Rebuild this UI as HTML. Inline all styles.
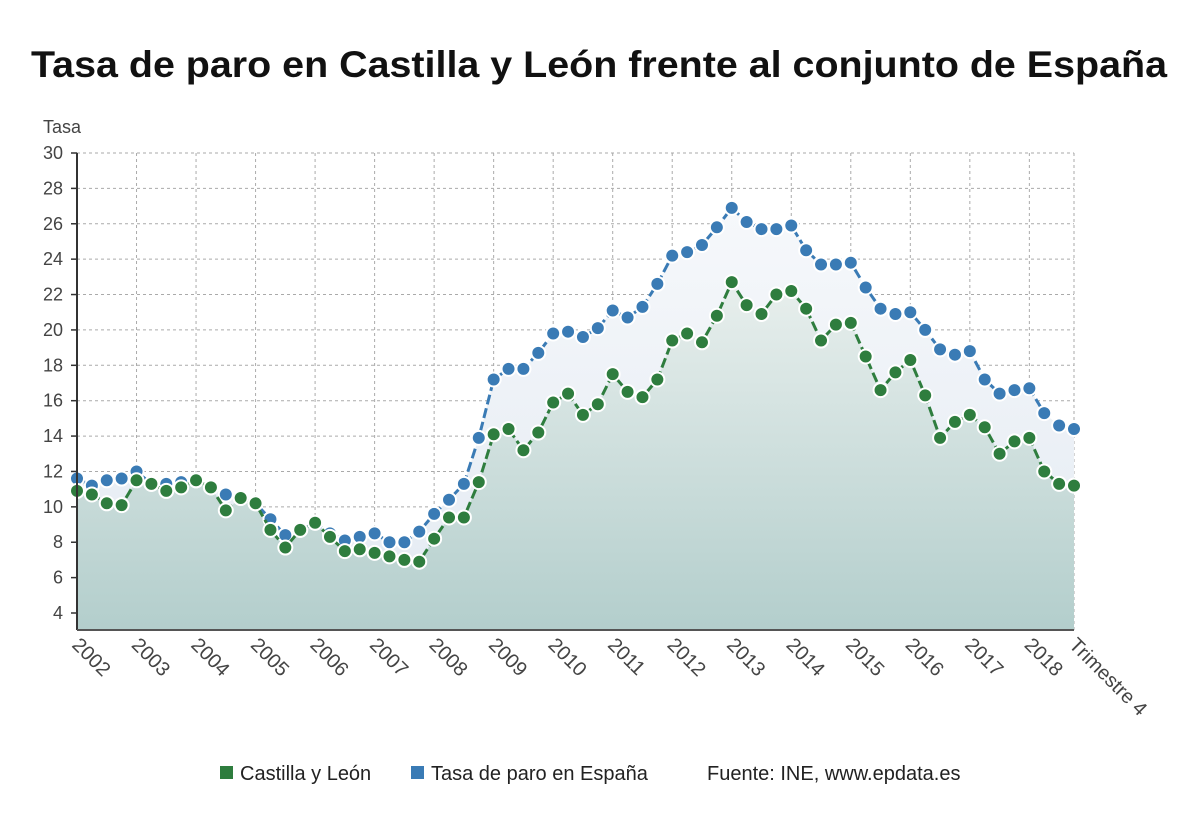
<!DOCTYPE html>
<html><head><meta charset="utf-8"><style>
body{margin:0;background:#fff;}
svg text{font-family:"Liberation Sans",sans-serif;}
</style></head><body>
<svg width="1200" height="808" viewBox="0 0 1200 808">
<defs>
<linearGradient id="gg" x1="0" y1="0" x2="0" y2="1"><stop offset="0" stop-color="#e8efed"/><stop offset="1" stop-color="#b3cecc"/></linearGradient>
<linearGradient id="bg" x1="0" y1="0" x2="0" y2="1"><stop offset="0" stop-color="#f6f8fb"/><stop offset="1" stop-color="#e3eaf2"/></linearGradient>
</defs>
<text x="599" y="77" text-anchor="middle" font-size="37" font-weight="bold" fill="#111" textLength="1136" lengthAdjust="spacingAndGlyphs">Tasa de paro en Castilla y León frente al conjunto de España</text>
<text x="43" y="133" font-size="18" fill="#444">Tasa</text>
<g id="grid"></g>
<g id="areas"></g>
<g id="lines"></g>
<g id="axes"></g>
<g>
<rect x="220" y="766" width="13" height="13" fill="#2e7d3e"/>
<text x="240" y="780" font-size="20" fill="#222">Castilla y León</text>
<rect x="411" y="766" width="13" height="13" fill="#3a7bb5"/>
<text x="431" y="780" font-size="20" fill="#222">Tasa de paro en España</text>
<text x="707" y="780" font-size="20" fill="#222">Fuente: INE, www.epdata.es</text>
</g>
</svg>
<script>
const years = ["2002","2003","2004","2005","2006","2007","2008","2009","2010","2011","2012","2013","2014","2015","2016","2017","2018"];
const yTicks = [4,6,8,10,12,14,16,18,20,22,24,26,28,30];
const spain = [11.6,11.2,11.5,11.6, 12.0,11.3,11.3,11.4, 11.5,11.1,10.7,10.5, 10.2,9.3,8.4,8.7, 9.1,8.5,8.1,8.3, 8.5,8.0,8.0,8.6, 9.6,10.4,11.3,13.9, 17.2,17.8,17.8,18.7, 19.8,19.9,19.6,20.1, 21.1,20.7,21.3,22.6, 24.2,24.4,24.8,25.8, 26.9,26.1,25.7,25.7, 25.9,24.5,23.7,23.7, 23.8,22.4,21.2,20.9, 21.0,20.0,18.9,18.6, 18.8,17.2,16.4,16.6, 16.7,15.3,14.6,14.4];
const cyl = [10.9,10.7,10.2,10.1, 11.5,11.3,10.9,11.1, 11.5,11.1,9.8,10.5, 10.2,8.7,7.7,8.7, 9.1,8.3,7.5,7.6, 7.4,7.2,7.0,6.9, 8.2,9.4,9.4,11.4, 14.1,14.4,13.2,14.2, 15.9,16.4,15.2,15.8, 17.5,16.5,16.2,17.2, 19.4,19.8,19.3,20.8, 22.7,21.4,20.9,22.0, 22.2,21.2,19.4,20.3, 20.4,18.5,16.6,17.6, 18.3,16.3,13.9,14.8, 15.2,14.5,13.0,13.7, 13.9,12.0,11.3,11.2];
const lastLabel = "Trimestre 4";

const X0=77, X1=1074, YT=153, YB=630;
const n = spain.length;
const x = i => X0 + (X1-X0)*i/(n-1);
const y = v => YT + (30-v)*(613-153)/26;
const NS="http://www.w3.org/2000/svg";
function mk(tag, attrs, parent){const e=document.createElementNS(NS,tag);for(const k in attrs)e.setAttribute(k,attrs[k]);parent.appendChild(e);return e;}
const grid=document.getElementById('grid'), areas=document.getElementById('areas'), lines=document.getElementById('lines'), axes=document.getElementById('axes');

function areaPath(arr){let d=`M${x(0)},${YB}`;arr.forEach((v,i)=>d+=` L${x(i)},${y(v)}`);return d+` L${x(n-1)},${YB} Z`;}
const aB=mk('path',{d:areaPath(spain),fill:'url(#bg)'},areas);


const aG=mk('path',{d:areaPath(cyl),fill:'url(#gg)'},areas);



yTicks.forEach(t=>{
  const l=mk('line',{x1:X0,x2:X1,y1:y(t),y2:y(t),stroke:'#aaa','stroke-dasharray':'3 3','stroke-width':1},grid);
  
  
  const tk=mk('line',{x1:X0-6,x2:X0,y1:y(t),y2:y(t),stroke:'#333','stroke-width':1.5},axes);
  
  
  const tx=mk('text',{x:X0-14,y:y(t)+6,'text-anchor':'end','font-size':18,fill:'#444'},axes);
  tx.textContent=t;
  
  
});
const xl=[...years.map((yr,k)=>({i:k*4,s:yr})),{i:n-1,s:lastLabel}];
xl.forEach(o=>{
  const gx=x(o.i);
  const l=mk('line',{x1:gx,x2:gx,y1:YT,y2:YB,stroke:'#aaa','stroke-dasharray':'3 3','stroke-width':1},grid);
  
  
  const tx=mk('text',{x:gx-6,y:YB+16,'font-size':20,fill:'#444',transform:`rotate(45 ${gx-6} ${YB+16})`},axes);
  tx.textContent=o.s;
  
  
});
const ax1=mk('line',{x1:X0,x2:X0,y1:YT,y2:YB,stroke:'#333','stroke-width':2},axes);


const ax2=mk('line',{x1:X0,x2:X1,y1:YB,y2:YB,stroke:'#555','stroke-width':2},axes);



function series(arr,color,name){
  const g=mk('g',{},lines);
  
  
  const p=mk('polyline',{points:arr.map((v,i)=>x(i)+','+y(v)).join(' '),fill:'none',stroke:color,'stroke-width':3,'stroke-dasharray':'10 4'},g);
  
  
  arr.forEach((v,i)=>{
    const c=mk('circle',{cx:x(i),cy:y(v),r:7,fill:color,stroke:'#fff','stroke-width':2},g);
    
    
  });
}
series(spain,'#3a7bb5','spain');
series(cyl,'#2e7d3e','cyl');
</script>
</body></html>
